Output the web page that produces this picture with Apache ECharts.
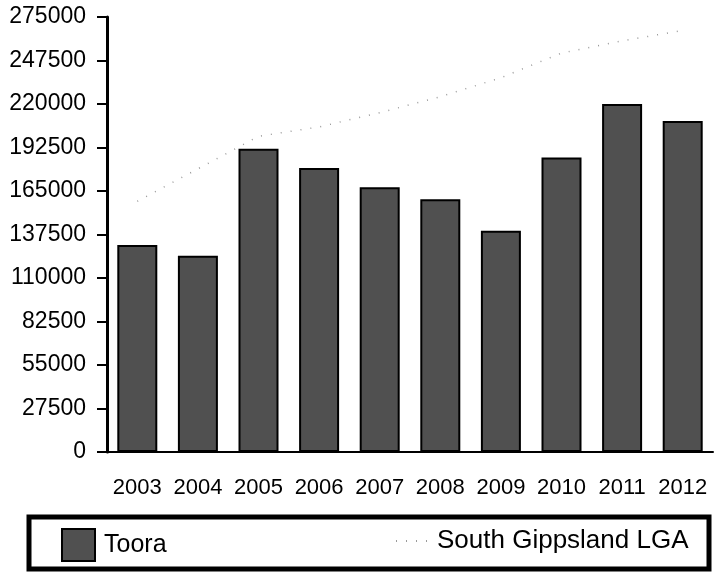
<!DOCTYPE html>
<html>
<head>
<meta charset="utf-8">
<script src="https://cdn.jsdelivr.net/npm/echarts@6/dist/echarts.min.js"></script>
<style>
html, body { margin: 0; padding: 0; background: #fff; }
#chart { width: 714px; height: 576px; }
</style>
</head>
<body>
<div id="chart"></div>
<script>
// 年份
var years = ['2003', '2004', '2005', '2006', '2007', '2008', '2009', '2010', '2011', '2012']
// Toora (bars)
var tooraValues = [130800, 124000, 191700, 179500, 167300, 159800, 139800, 186200, 220000, 209300]
// South Gippsland LGA (dotted line)
var lgaValues = [158500, 179000, 199600, 205500, 214500, 224600, 236600, 252200, 259900, 266500]
var yTicks = { min: 0, max: 275000, interval: 27500 }

var font = 'Liberation Sans'
var chart = echarts.init(document.getElementById('chart'))
chart.setOption({
  animation: false,
  textStyle: { fontFamily: font, color: '#000' },
  grid: { left: 107, right: 1, top: 17, bottom: 124 },
  legend: [
    {
      data: [{ name: 'Toora', icon: 'rect' }],
      left: 56,
      top: 523,
      itemWidth: 33,
      itemHeight: 32,
      textStyle: { fontSize: 25, color: '#000', fontFamily: font, padding: [0, 0, 0, 4] }
    },
    {
      data: ['South Gippsland LGA'],
      left: 390,
      top: 523,
      itemWidth: 36,
      itemHeight: 32,
      itemStyle: { opacity: 0 },
      textStyle: { fontSize: 26, color: '#000', fontFamily: font }
    }
  ],
  graphic: [
    {
      type: 'rect',
      shape: { x: 29, y: 517, width: 680, height: 52 },
      style: { fill: null, stroke: '#000', lineWidth: 5 },
      silent: true
    }
  ],
  xAxis: {
    type: 'category',
    data: years,
    axisLine: { lineStyle: { color: '#000', width: 2 } },
    axisTick: { alignWithLabel: true, length: 11, lineStyle: { color: '#000', width: 2 } },
    axisLabel: { interval: 0, fontSize: 22, color: '#000', margin: 25 }
  },
  yAxis: {
    type: 'value',
    min: yTicks.min,
    max: yTicks.max,
    interval: yTicks.interval,
    axisLine: { show: true, lineStyle: { color: '#000', width: 3 } },
    axisTick: { show: true, length: 10, lineStyle: { color: '#000', width: 2 } },
    splitLine: { show: false },
    axisLabel: {
      fontSize: 23,
      color: '#000',
      margin: 21,
      formatter: function (v) { return String(v) }
    }
  },
  series: [
    {
      name: 'Toora',
      type: 'bar',
      data: tooraValues,
      barWidth: 40,
      itemStyle: { color: '#505050', borderColor: '#000', borderWidth: 2 }
    },
    {
      name: 'South Gippsland LGA',
      type: 'line',
      data: lgaValues,
      symbol: 'none',
      z: 1,
      itemStyle: { color: '#9a9a9a' },
      lineStyle: { color: '#9a9a9a', width: 1.5, type: [1, 9] }
    }
  ]
})
</script>
</body>
</html>
